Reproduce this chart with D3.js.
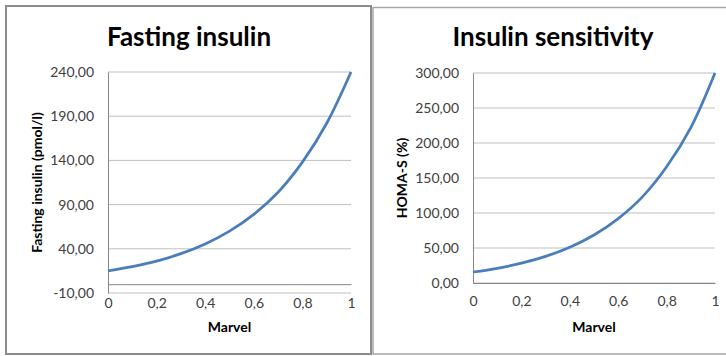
<!DOCTYPE html>
<html><head><meta charset="utf-8">
<script src="https://cdn.jsdelivr.net/npm/d3@7"></script>
<style>body{margin:0;background:#fff}svg{display:block}</style>
</head><body>
<svg id="c" width="726" height="356"></svg>
<script>
const marvel = [0,0.1,0.2,0.3,0.4,0.5,0.6,0.7,0.8,0.9,1];
const fastingInsulin = [15,19.8,26,34.5,45.5,60,79,104,138,182,240];
const homaS = [15.7,21,28.3,38,51,68.5,92,123,166,222,300];
const xTicks = [0,0.2,0.4,0.6,0.8,1];
const yTicksLeft = [-10,40,90,140,190,240];
const yTicksRight = [0,50,100,150,200,250,300];

const svg = d3.select("#c");
const font = "Lato, 'Open Sans', sans-serif";
const fmtX = d => String(d).replace(".", ",");
const fmtY = d => d.toFixed(2).replace(".", ",");

// panel frames
svg.append("rect").attr("x",373).attr("y",7.5).attr("width",360).attr("height",346.5)
  .attr("fill","#fff").attr("stroke","#a6a6a6").attr("stroke-width",1.5);
svg.append("rect").attr("x",6).attr("y",6).attr("width",365).attr("height",348)
  .attr("fill","#fff").attr("stroke","#8c8c8c").attr("stroke-width",2);

function panel(o){
  const x = d3.scaleLinear().domain([0,1]).range([o.x0,o.x1]);
  const y = d3.scaleLinear().domain(o.ydom).range([o.y0,o.y1]);
  const g = svg.append("g");
  // gridlines
  g.selectAll("line.grid").data(o.yTicks).join("line")
    .attr("x1",o.x0).attr("x2",o.x1).attr("y1",d=>y(d)).attr("y2",d=>y(d))
    .attr("stroke","#bfbfbf").attr("stroke-width",1);
  // y axis
  const ya = d3.axisLeft(y).tickValues(o.yTicks).tickFormat(fmtY).tickSize(0).tickPadding(14);
  const yg = g.append("g").attr("transform",`translate(${o.x0},0)`).call(ya);
  yg.select(".domain").attr("stroke","#868686");
  yg.selectAll("text").attr("font-family",font).attr("font-size",14).attr("fill","#404040");
  // x axis at value 0
  const xa = d3.axisBottom(x).tickValues(xTicks).tickFormat(fmtX).tickSize(0).tickPadding(o.xpad);
  const xg = g.append("g").attr("transform",`translate(0,${y(0)})`).call(xa);
  xg.select(".domain").attr("stroke","#868686");
  xg.selectAll("text").attr("font-family",font).attr("font-size",14).attr("fill","#404040");
  // line
  const line = d3.line().x((d,i)=>x(marvel[i])).y(d=>y(d)).curve(d3.curveCatmullRom);
  g.append("path").attr("d",line(o.values)).attr("fill","none")
    .attr("stroke","#4a7ebb").attr("stroke-width",2.75);
  // title
  g.append("text").attr("x",o.tx).attr("y",46).attr("text-anchor","middle")
    .attr("font-family",font).attr("font-weight","bold").attr("font-size",26).attr("fill","#000").text(o.title);
  // axis titles
  g.append("text").attr("x",(o.x0+o.x1)/2).attr("y",332).attr("text-anchor","middle")
    .attr("font-family",font).attr("font-weight","bold").attr("font-size",14).attr("fill","#000").text("Marvel");
  g.append("text").attr("transform",`translate(${o.ytx},${(o.y0+o.y1)/2}) rotate(-90)`)
    .attr("text-anchor","middle").attr("font-family",font).attr("font-weight","bold")
    .attr("font-size",14).attr("fill","#000").text(o.ytitle);
}

panel({x0:108,x1:351,y0:293,y1:72,ydom:[-10,240],yTicks:yTicksLeft,values:fastingInsulin,
  title:"Fasting insulin",tx:189,ytitle:"Fasting insulin (pmol/l)",ytx:42,xpad:14});
panel({x0:473,x1:715,y0:283,y1:73,ydom:[0,300],yTicks:yTicksRight,values:homaS,
  title:"Insulin sensitivity",tx:553,ytitle:"HOMA-S (%)",ytx:407,xpad:13});
</script>
</body></html>
